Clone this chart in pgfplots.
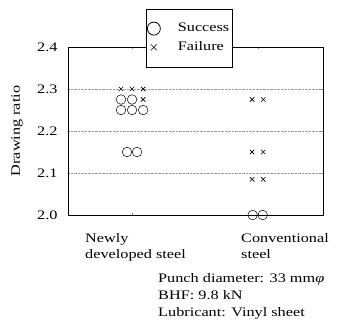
\documentclass[border=0pt]{standalone}
\usepackage{fontspec}
\setmainfont{Liberation Serif}[FakeStretch=1.25]
\usepackage{pgfplots}
\pgfplotsset{compat=1.18}
\begin{document}
\fontsize{13}{16}\selectfont
\begin{tikzpicture}
\useasboundingbox (-68pt,-118pt) rectangle (288pt,215pt);
\begin{axis}[
  at={(0,0)}, anchor=south west,
  scale only axis, width=255pt, height=168pt,
  xmin=0.49, xmax=2.52, ymin=2.0, ymax=2.4,
  xtick={1,2}, xticklabels={},
  ytick={2.0,2.1,2.2,2.3,2.4},
  /pgf/number format/assume math mode=true,
  yticklabel style={/pgf/number format/fixed,/pgf/number format/fixed zerofill,/pgf/number format/precision=1, xshift=-6pt},
  major tick length=2pt,
  ymajorgrids, grid style={densely dotted, gray!80},
  axis line style={black, line width=0.5pt},
  ylabel={Drawing ratio},
  ylabel style={at={(axis description cs:-0.2,0.5)}, anchor=center},
  clip=false,
  legend style={at={(0.475,1.053)}, anchor=center, draw=black, fill=white,
    inner xsep=1pt, inner ysep=12pt, row sep=4pt, cells={anchor=west}},
]
\addplot[only marks, mark=o, mark size=4.8pt, mark options={black, line width=0.5pt},
  legend image code/.code={\draw[black, line width=0.8pt] (0pt,0pt) circle (6.5pt); \path[draw=none] (-6.5pt,0pt) -- (22pt,0pt);}]
  coordinates {(0.912,2.275) (1.0,2.275) (0.912,2.25) (1.0,2.25) (1.088,2.25)
               (0.96,2.15) (1.04,2.15) (1.96,2.0) (2.04,2.0)};
\addlegendentry{Success\hspace{36pt}}
\addplot[only marks, mark=x, mark size=3.2pt, mark options={black, line width=0.6pt},
  legend image code/.code={\draw[black, line width=0.6pt] (-3pt,-3pt) -- (3pt,3pt) (-3pt,3pt) -- (3pt,-3pt); \path[draw=none] (-6.5pt,0pt) -- (22pt,0pt);}]
  coordinates {(0.912,2.30) (1.0,2.30) (1.088,2.30) (1.088,2.275)
               (1.956,2.275) (2.044,2.275) (1.956,2.15) (2.044,2.15)
               (1.956,2.085) (2.044,2.085)};
\addlegendentry{Failure}
\end{axis}
\node[anchor=base west, inner sep=0pt] at (17pt,-27pt) {Newly};
\node[anchor=base west, inner sep=0pt] at (17pt,-43pt) {developed steel};
\node[anchor=base west, inner sep=0pt] at (173pt,-27pt) {Conventional};
\node[anchor=base west, inner sep=0pt] at (173pt,-43pt) {steel};
\node[anchor=base west, inner sep=0pt] at (90pt,-67pt) {Punch diameter: 33 mm\textit{φ}};
\node[anchor=base west, inner sep=0pt] at (90pt,-84pt) {BHF: 9.8 kN};
\node[anchor=base west, inner sep=0pt] at (90pt,-101pt) {Lubricant: Vinyl sheet};
\end{tikzpicture}
\end{document}
